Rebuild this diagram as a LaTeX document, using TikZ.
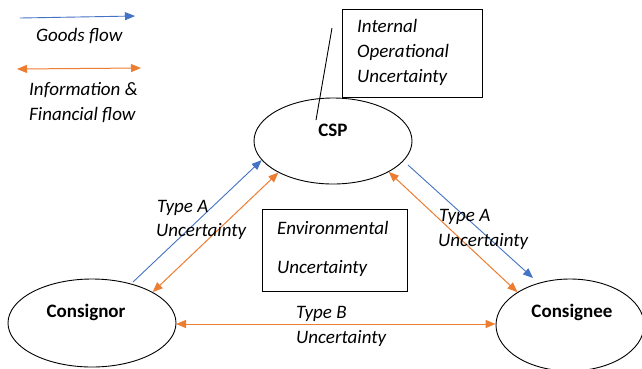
\documentclass[tikz,border=0pt]{standalone}
\usepackage{fontspec}
\setmainfont{Carlito}
\usetikzlibrary{arrows.meta,shapes.geometric}
\definecolor{gblue}{HTML}{4472C4}
\definecolor{forange}{HTML}{ED7D31}
\begin{document}
\begin{tikzpicture}[x=1pt,y=-1pt,
  every node/.style={font=\fontsize{19}{23}\selectfont},
  lbl/.style={anchor=west,inner sep=0pt,text height=12.5pt,text depth=3.7pt,font=\fontsize{19}{23}\selectfont\itshape},
  bold/.style={inner sep=0pt,text height=12.5pt,text depth=3.7pt,font=\fontsize{19}{23}\selectfont\bfseries},
  actor/.style={draw=black,line width=0.9pt,ellipse,inner sep=0pt},
  box/.style={draw=black,line width=0.9pt,inner sep=0pt},
  goods/.style={draw=gblue,line width=0.9pt,-{Triangle[length=10pt,width=8pt]}},
  info/.style={draw=forange,line width=1pt,{Triangle[length=10pt,width=8pt]}-{Triangle[length=10pt,width=8pt]}}]
\useasboundingbox (0,0) rectangle (642,368);
\fill[white] (0,0) rectangle (642,368);
% legend
\coordinate (lg1) at (20,18);
\coordinate (lg2) at (135,16);
\draw[goods] (lg1) -- (lg2);
\node[lbl] (tgoods) at (36,37) {Goods flow};
\coordinate (li1) at (17,69);
\coordinate (li2) at (141,68);
\draw[info] (li1) -- (li2);
\node[lbl] (tinfo1) at (29,91) {Information \&};
\node[lbl] (tinfo2) at (29,116) {Financial flow};
% ellipses
\node[actor,minimum width=158pt,minimum height=86pt] (csp) at (333,141) {};
\node[bold] (tcsp) at (333,132) {CSP};
\node[actor,minimum width=168pt,minimum height=88pt] (cnor) at (92,323) {};
\node[bold] (tcnor) at (86,313) {Consignor};
\node[actor,minimum width=148pt,minimum height=92pt] (cnee) at (570,325) {};
\node[bold] (tcnee) at (572,313) {Consignee};
% internal box
\node[box,minimum width=140pt,minimum height=88pt] (ibox) at (412,53) {};
\node[lbl] (ti1) at (357,28) {Internal};
\node[lbl] (ti2) at (357,53) {Operational};
\node[lbl] (ti3) at (357,78) {Uncertainty};
\coordinate (pin1) at (332,28);
\coordinate (pin2) at (316,120);
\draw[black,line width=0.9pt] (pin1) -- (pin2);
% environmental box
\node[box,minimum width=145pt,minimum height=82pt] (ebox) at (334.5,250) {};
\node[lbl] (te1) at (277,230) {Environmental};
\node[lbl] (te2) at (277,269) {Uncertainty};
% left side flows
\coordinate (bl1) at (133,282);
\draw[goods] (bl1) -- (csp.195);
\draw[info] (cnor.27) -- (csp.210);
\node[lbl] (tal1) at (157,208) {Type A};
\node[lbl] (tal2) at (156,232) {Uncertainty};
% right side flows
\coordinate (br1) at (408,165);
\coordinate (br2) at (533,278);
\draw[goods] (br1) -- (br2);
\draw[info] (csp.-29) -- (cnee.148);
\node[lbl] (tar1) at (439,217) {Type A};
\node[lbl] (tar2) at (438,242) {Uncertainty};
% bottom flow
\coordinate (bb1) at (176,324);
\draw[info] (bb1) -- (bb1 -| cnee.west);
\node[lbl] (tb1) at (296,314) {Type B};
\node[lbl] (tb2) at (296,339) {Uncertainty};
\end{tikzpicture}
\end{document}
